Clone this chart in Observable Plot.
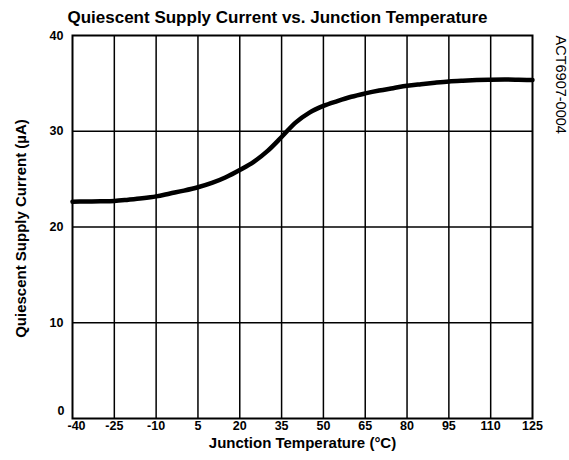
<!DOCTYPE html>
<html>
<head>
<meta charset="utf-8">
<script src="https://cdn.jsdelivr.net/npm/d3@7"></script>
<script src="https://cdn.jsdelivr.net/npm/@observablehq/plot@0.6"></script>
<style>
  body { margin: 0; background: #fff; }
  svg { font-family: "Liberation Sans", Arial, sans-serif; }
</style>
</head>
<body>
<div id="chart"></div>
<script>
// Data
const temperature = [-40, -35, -30, -25, -20, -15, -10, -5, 0, 5, 10, 15, 20, 25, 30, 35, 40, 45, 50, 55, 60, 65, 70, 75, 80, 85, 90, 95, 100, 105, 110, 115, 120, 125];
const current =     [22.65, 22.66, 22.68, 22.72, 22.85, 23.0, 23.2, 23.5, 23.8, 24.15, 24.6, 25.2, 25.95, 26.8, 27.95, 29.4, 30.9, 31.95, 32.65, 33.15, 33.6, 33.95, 34.25, 34.5, 34.75, 34.92, 35.07, 35.2, 35.28, 35.34, 35.38, 35.4, 35.38, 35.35];
const xTicks = [-40, -25, -10, 5, 20, 35, 50, 65, 80, 95, 110, 125];
const yTicks = [0, 10, 20, 30, 40];
const titleText = "Quiescent Supply Current vs. Junction Temperature";
const xLabel = "Junction Temperature (°C)";
const yLabel = "Quiescent Supply Current (µA)";
const figId = "ACT6907-0004";

const data = temperature.map((t, i) => ({t, c: current[i]}));

const chart = Plot.plot({
  width: 569,
  height: 460,
  marginLeft: 72,
  marginRight: 37,
  marginTop: 35,
  marginBottom: 42,
  x: {domain: [-40, 125]},
  y: {domain: [0, 40]},
  style: {fontFamily: "Liberation Sans, Arial, sans-serif", color: "black"},
  marks: [
    Plot.gridX(xTicks.slice(1, -1), {stroke: "black", strokeOpacity: 1, strokeWidth: 1.5}),
    Plot.gridY(yTicks.slice(1, -1), {stroke: "black", strokeOpacity: 1, strokeWidth: 1.5}),
    Plot.frame({stroke: "black", strokeWidth: 2}),
    Plot.line(data, {x: "t", y: "c", curve: "monotone-x", stroke: "black", strokeWidth: 4.5}),
    Plot.axisX(xTicks.slice(0, 1), {tickSize: 0, tickPadding: 3, fontSize: 12.5, fontWeight: "bold", label: null, dx: 4, tickFormat: d => String(d)}),
    Plot.axisX(xTicks.slice(1), {tickSize: 0, tickPadding: 3, fontSize: 12.5, fontWeight: "bold", label: null, tickFormat: d => String(d)}),
    Plot.axisY(yTicks.slice(1), {tickSize: 0, tickPadding: 9, fontSize: 12.5, fontWeight: "bold", label: null}),
    Plot.axisY(yTicks.slice(0, 1), {tickSize: 0, tickPadding: 8, fontSize: 12.5, fontWeight: "bold", label: null, dy: -8}),
    Plot.text([titleText], {frameAnchor: "top", dx: -25, dy: -18, fontSize: 17, fontWeight: "bold", textAnchor: "middle", lineAnchor: "middle"}),
    Plot.text([xLabel], {frameAnchor: "bottom", dy: 25, fontSize: 15, fontWeight: "bold", textAnchor: "middle", lineAnchor: "middle"}),
    Plot.text([yLabel], {frameAnchor: "left", dx: -51, dy: 1.5, rotate: -90, fontSize: 15, fontWeight: "bold", textAnchor: "middle", lineAnchor: "middle"}),
    Plot.text([figId], {frameAnchor: "top-right", dx: 28, dy: 0, rotate: 90, fontSize: 14.5, textAnchor: "start", lineAnchor: "middle"})
  ]
});
document.getElementById("chart").append(chart);
</script>
</body>
</html>
